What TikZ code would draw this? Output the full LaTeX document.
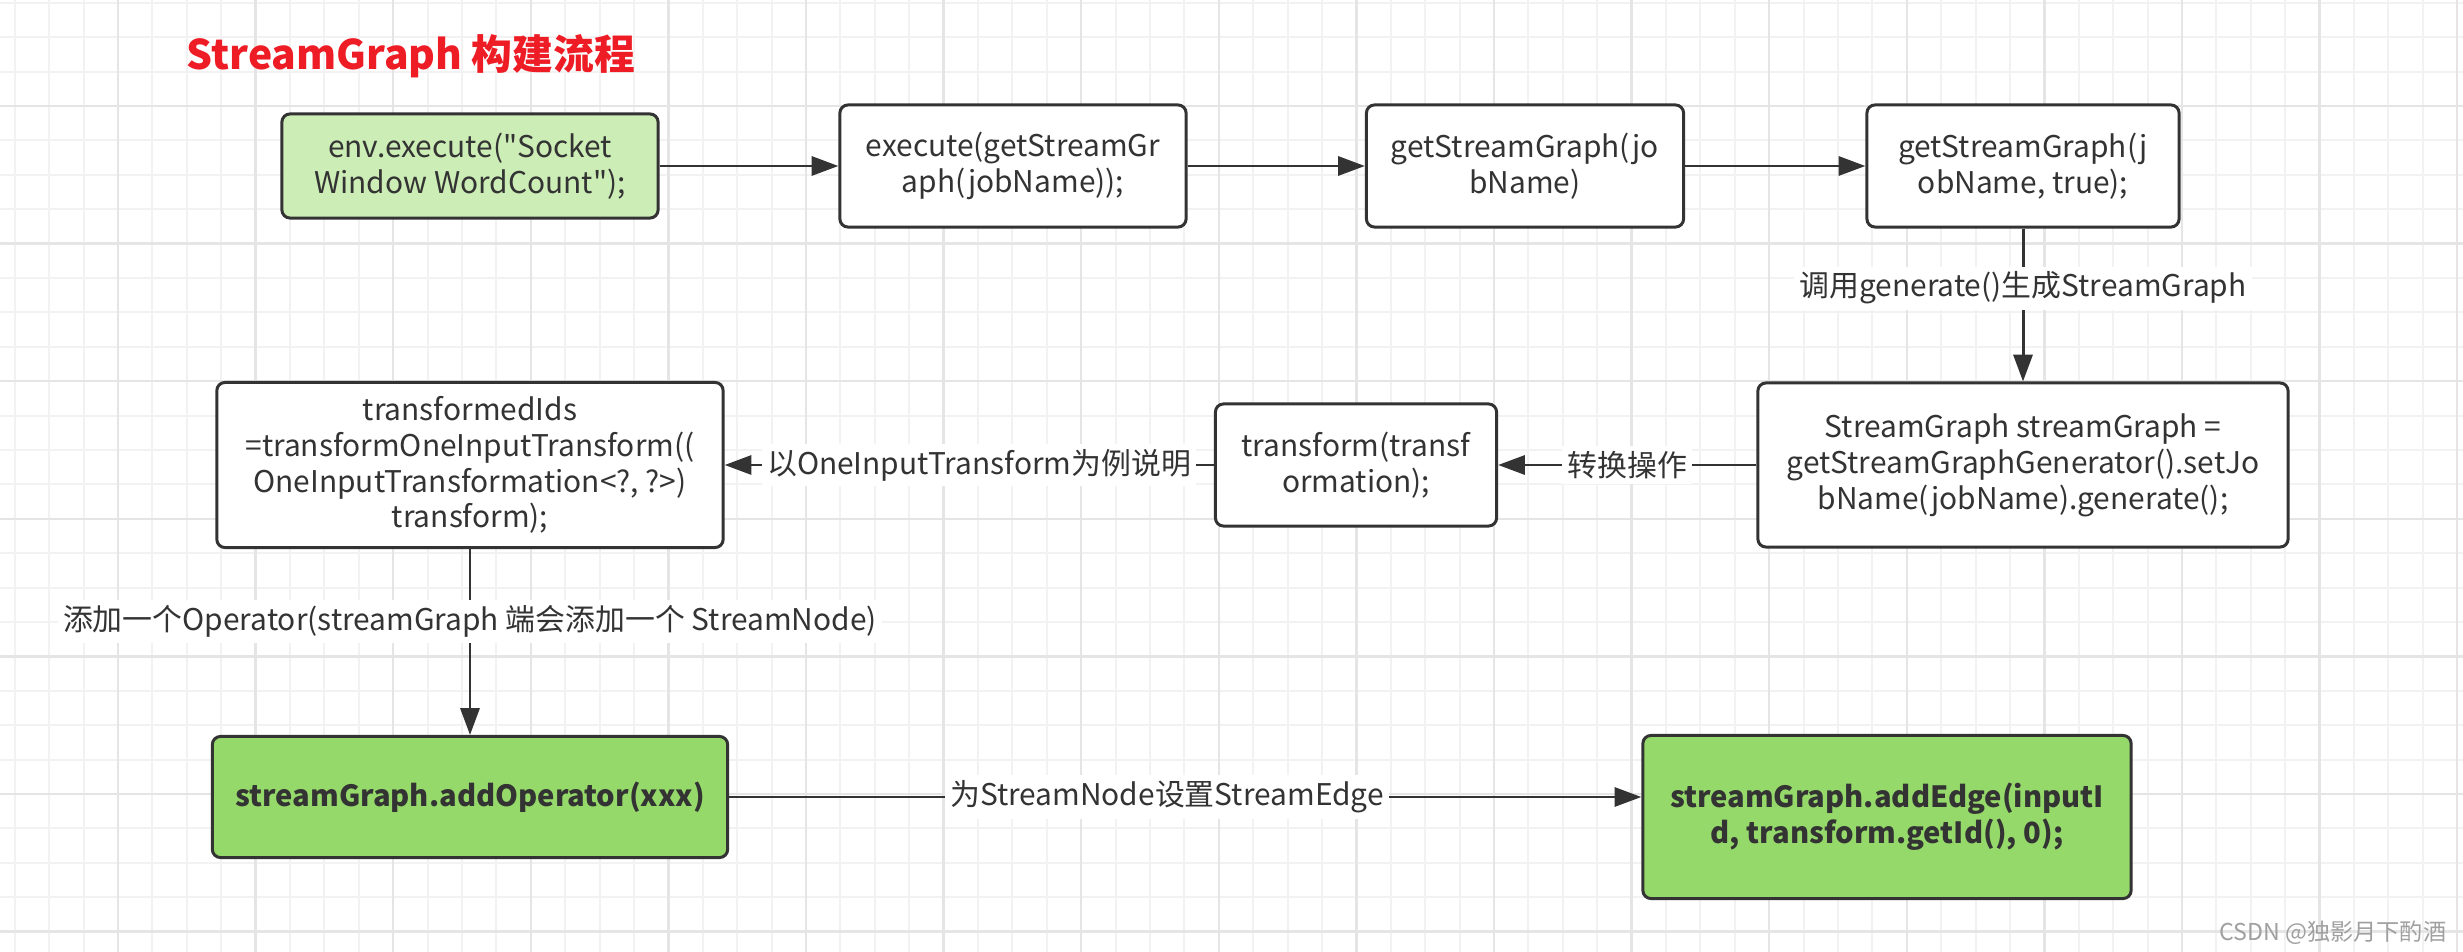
\documentclass[tikz,border=0pt]{standalone}
\usepackage{fontspec}
\setmainfont{Noto Sans CJK SC}[Ligatures=TeXOff]
\usetikzlibrary{arrows.meta}
\definecolor{linegray}{HTML}{333333}
\definecolor{palegreen}{HTML}{CCEDB6}
\definecolor{opgreen}{HTML}{96D96B}
\definecolor{titlered}{HTML}{EE1C25}
\definecolor{gridminor}{HTML}{F2F2F2}
\definecolor{gridmajor}{HTML}{E5E5E5}
\definecolor{markgray}{HTML}{A0A0A0}
\tikzset{
  box/.style={draw=linegray, line width=0.85pt, rounded corners=2.3pt,
    align=center, text=linegray, inner sep=0pt,
    font=\fontsize{8.5}{10.2}\selectfont},
  startbox/.style={box, fill=palegreen},
  plainbox/.style={box, fill=white},
  opbox/.style={box, fill=opgreen, font=\fontsize{8.3}{10.2}\selectfont\bfseries},
  lbl/.style={fill=white, text=linegray, inner sep=1.5pt,
    font=\fontsize{8.5}{10.2}\selectfont},
}
\begin{document}
\begin{tikzpicture}[x=0.01cm, y=-0.01cm]
      \useasboundingbox (0,0) rectangle (2463,952);
      \fill[white] (0,0) rectangle (2463,952);
      % grid
      \foreach \gx in {0,...,71}
        \draw[gridminor, line width=0.55pt] ({14.8+34.4*\gx},0) -- ++(0,952);
      \foreach \gy in {0,...,27}
        \draw[gridminor, line width=0.55pt] (0,{2.8+34.4*\gy}) -- ++(2463,0);
      \foreach \gx in {-1,...,17}
        \draw[gridmajor, line width=0.7pt] ({118+137.6*\gx},0) -- ++(0,952);
      \foreach \gy in {0,...,7}
        \draw[gridmajor, line width=0.7pt] (0,{-31.6+137.6*\gy}) -- ++(2463,0);
      % title
      \node[anchor=base west, inner sep=0pt, text=titlered,
        font=\fontsize{11.6}{14}\selectfont\bfseries] (title) at (186,70)
        {StreamGraph 构建流程};
      % nodes
      \node[startbox, minimum width=3.76cm, minimum height=1.04cm] (envexec) at (470,166)
        {env.execute("Socket\\Window WordCount");};
      \node[plainbox, minimum width=3.46cm, minimum height=1.22cm] (execute) at (1013,166)
        {execute(getStreamGr\\aph(jobName));};
      \node[plainbox, minimum width=3.17cm, minimum height=1.22cm] (getsg) at (1525,166)
        {getStreamGraph(jo\\bName)};
      \node[plainbox, minimum width=3.12cm, minimum height=1.22cm] (getsgtrue) at (2023,166)
        {getStreamGraph(j\\obName, true);};
      \node[plainbox, minimum width=5.30cm, minimum height=1.64cm] (generate) at (2023,465)
        {StreamGraph streamGraph =\\getStreamGraphGenerator().setJo\\bName(jobName).generate();};
      \node[plainbox, minimum width=2.81cm, minimum height=1.22cm] (transform) at (1356,465)
        {transform(transf\\ormation);};
      \node[plainbox, minimum width=5.06cm, minimum height=1.65cm] (oneinput) at (470,465)
        {transformedIds\\=transformOneInputTransform((\\OneInputTransformation<?, ?>)\\transform);};
      \node[opbox, minimum width=5.15cm, minimum height=1.21cm] (addop) at (470,797)
        {streamGraph.addOperator(xxx)};
      \node[opbox, minimum width=4.88cm, minimum height=1.63cm] (addedge) at (1887,817)
        {streamGraph.addEdge(inputI\\d, transform.getId(), 0);};
      \coordinate (edgein) at (addedge.west |- addop.east);
      % watermark
      \node[anchor=base east, inner sep=0pt, text=markgray,
        font=\fontsize{6.6}{8}\selectfont] (mark) at (2447,940) {CSDN @独影月下酌酒};
      % connectors
      \begin{scope}[draw=linegray, line width=0.85pt,
          -{Triangle[length=7.6pt, width=5.4pt]}, linegray]
        \draw (envexec) to (execute);
        \draw (execute) to (getsg);
        \draw (getsg) to (getsgtrue);
        \draw (getsgtrue) to node[lbl, pos=0.39] {调用generate()生成StreamGraph} (generate);
        \draw (generate) to node[lbl] {转换操作} (transform);
        \draw (transform) to node[lbl, pos=0.48] {以OneInputTransform为例说明} (oneinput);
        \draw (oneinput) to node[lbl, pos=0.39] {添加一个Operator(streamGraph 端会添加一个 StreamNode)} (addop);
        \draw (addop) to node[lbl, pos=0.48] {为StreamNode设置StreamEdge} (edgein);
      \end{scope}
    \end{tikzpicture}
\end{document}
